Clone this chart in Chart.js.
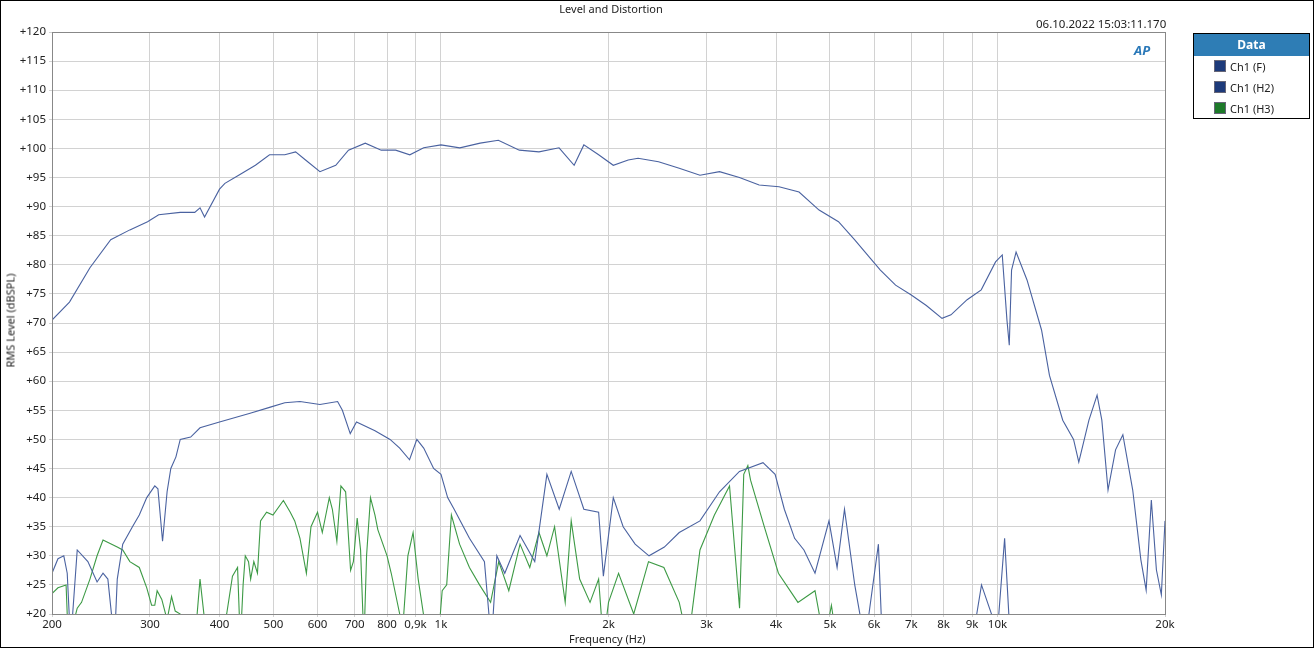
<!DOCTYPE html>
<html lang="en">
<head>
    <meta charset="utf-8" />
    <title>Level and Distortion</title>
    <style>
        html, body { margin: 0; padding: 0; background: white; font-family: 'Noto Sans', 'Open Sans', Arial, sans-serif; color: #222; }
        #frame { position: relative; width: 1312px; height: 646px; border: 1px solid #000; overflow: hidden; }
        #chart { position: absolute; left: -1px; top: -1px; }
        .txt { position: absolute; font-size: 11px; white-space: nowrap; }
        #title { left: 0; width: 1220px; top: 0; text-align: center; }
        #stamp { left: 1035px; top: 15px; font-size: 11.5px; }
        #ylab { left: -46px; top: 312px; transform: rotate(-90deg); width: 110px; text-align: center; }
        #xlab { left: 568px; top: 630px; }
        #ap { left: 1133px; top: 40px; color: #2a78b8; font-weight: bold; font-style: italic; font-size: 13px; }
        #legend { position: absolute; left: 1192px; top: 32px; width: 115px; height: 84px; border: 1px solid #000; font-size: 11px; }
        #legend .hd { background: #2e7db5; color: white; font-weight: bold; text-align: center; height: 22px; line-height: 22px; font-size: 12px; }
        #legend .row { height: 21px; line-height: 21px; padding-left: 20px; }
        #legend .sw { display: inline-block; width: 10px; height: 10px; vertical-align: -1px; margin-right: 4px; border: 1px solid #667; }
    </style>
</head>
<body>
<div id="frame">
    <canvas id="chart" width="1314" height="648"></canvas>
    <div class="txt" id="title">Level and Distortion</div>
    <div class="txt" id="stamp">06.10.2022 15:03:11.170</div>
    <div class="txt" id="ylab">RMS Level (dBSPL)</div>
    <div class="txt" id="xlab">Frequency (Hz)</div>
    <div class="txt" id="ap">AP</div>
    <div id="legend">
        <div class="hd">Data</div>
        <div class="row"><span class="sw" style="background:#1d3a7a"></span>Ch1 (F)</div>
        <div class="row"><span class="sw" style="background:#1d3a7a"></span>Ch1 (H2)</div>
        <div class="row"><span class="sw" style="background:#1e7a2a"></span>Ch1 (H3)</div>
    </div>
</div>

<script src="https://cdn.jsdelivr.net/npm/chart.js@4.4.3/dist/chart.umd.min.js"></script>
<script>
    // fundamental
    const fFreq = [200, 215, 234, 255, 276, 297, 311, 340, 361, 369, 376, 400, 409, 433, 464, 492, 524, 548, 571, 606, 647, 682, 731, 781, 829, 879, 931, 1000, 1081, 1176, 1268, 1383, 1500, 1630, 1735, 1806, 1920, 2040, 2170, 2260, 2460, 2680, 2920, 3166, 3438, 3730, 4050, 4400, 4780, 5180, 5540, 5900, 6160, 6560, 7000, 7450, 7950, 8250, 8820, 9350, 9920, 10200, 10400, 10500, 10600, 10800, 11300, 12000, 12400, 13100, 13700, 14000, 14600, 15100, 15400, 15800, 16300, 16800, 17500, 18100, 18500, 18900, 19300, 19700, 20000];
    const fLevel = [70.5, 73.6, 79.5, 84.3, 86, 87.4, 88.6, 89, 89, 89.8, 88.2, 93, 94, 95.4, 97.1, 98.9, 98.9, 99.4, 98, 96, 97.1, 99.7, 100.9, 99.7, 99.7, 98.9, 100.1, 100.6, 100.1, 100.9, 101.4, 99.7, 99.4, 100.1, 97.1, 100.6, 98.9, 97.1, 98, 98.3, 97.7, 96.6, 95.4, 96, 95, 93.7, 93.4, 92.5, 89.4, 87.4, 84.3, 81.2, 79.1, 76.5, 74.8, 73, 70.8, 71.4, 74, 75.7, 80.5, 81.7, 70.5, 66.2, 79.1, 82.2, 77.4, 68.8, 61, 53.3, 50, 46.1, 53.3, 57.6, 53.3, 41.3, 48.2, 50.8, 41.3, 29.3, 24.1, 39.6, 27.6, 23.3, 36];

    // second harmonic
    const h2Freq = [200, 205, 210, 213, 216, 222, 232, 241, 247, 252, 259, 262, 268, 279, 287, 296, 306, 310, 316, 322, 327, 334, 340, 355, 369, 400, 454, 492, 524, 558, 606, 652, 665, 687, 705, 761, 810, 843, 878, 905, 931, 970, 1000, 1028, 1056, 1125, 1197, 1232, 1260, 1302, 1387, 1474, 1550, 1631, 1714, 1806, 1920, 1958, 2040, 2125, 2233, 2365, 2520, 2680, 2920, 3166, 3438, 3790, 3985, 4140, 4320, 4490, 4700, 4980, 5150, 5310, 5540, 5780, 6110, 6210, 6400, 9000, 9360, 10000, 10300, 10550, 11000, 20000];
    const h2Level = [27, 29.5, 30, 27, 15, 31, 29, 25.5, 27, 26, 15, 26, 32, 35, 37, 40, 42, 41.5, 32.5, 41, 45, 47, 50, 50.4, 52, 53, 54.5, 55.5, 56.3, 56.5, 56, 56.5, 55, 51, 53, 51.5, 50, 48.5, 46.5, 50, 48.5, 45, 44, 40, 38, 33, 29, 15, 30, 27, 33.5, 29, 44, 38, 44.5, 38, 37.5, 26.5, 40, 35, 32, 30, 31.5, 34, 36, 41, 44.5, 46, 44, 38, 33, 31, 27, 36, 28, 38, 25, 15, 32, 15, 15, 15, 25, 17, 33, 15, 15, 15];

    // third harmonic
    const h3Freq = [200, 205, 212, 214, 222, 226, 234, 241, 247, 262, 268, 276, 287, 296, 302, 306, 309, 315, 322, 328, 333, 340, 345, 361, 369, 380, 400, 412, 422, 431, 436, 441, 445, 451, 455, 461, 468, 474, 486, 499, 521, 536, 546, 558, 573, 584, 600, 612, 630, 638, 650, 661, 674, 688, 696, 707, 717, 727, 735, 747, 761, 770, 800, 814, 843, 850, 872, 891, 910, 930, 940, 988, 1005, 1024, 1044, 1080, 1125, 1173, 1228, 1270, 1324, 1387, 1444, 1500, 1550, 1600, 1672, 1714, 1775, 1853, 1920, 1958, 2000, 2085, 2220, 2360, 2515, 2680, 2780, 2920, 3100, 3300, 3440, 3500, 3560, 3600, 3810, 4040, 4380, 4700, 4890, 5030, 5150, 20000];
    const h3Level = [23.5, 24.5, 25, 15, 21, 22, 26, 30, 32.7, 31.5, 31, 29, 28, 24.5, 21.5, 21.5, 24, 22.5, 19, 23, 20.5, 20, 15, 15, 26, 15, 15, 20, 26.5, 28, 15, 25, 30, 29, 26, 29, 27, 36, 37.5, 37, 39.5, 37.5, 36, 33, 27, 35, 37.5, 34, 40, 38, 32.5, 42, 41, 27.5, 29, 36.5, 31, 15, 30, 40, 37, 34.5, 30, 27, 20, 15, 30, 34, 26, 20, 15, 15, 24, 25, 37, 32, 28, 25, 22, 29, 24, 32, 28, 34, 30, 35, 22, 36, 26, 22, 26, 15, 22, 27, 20, 29, 28, 22, 15, 31, 37, 42, 21, 44, 45.5, 43, 35, 27, 22, 24, 15, 21.5, 15, 15];

    const xTicks = [200, 300, 400, 500, 600, 700, 800, 900, 1000, 2000, 3000, 4000, 5000, 6000, 7000, 8000, 9000, 10000, 20000];

    function pairs(fs, vs) { return fs.map((f, i) => ({ x: f, y: vs[i] })); }

    function tickLabel(v) {
        if (v === 900) return '0,9k';
        if (v >= 1000) return (v / 1000) + 'k';
        return String(v);
    }

    const font = { family: "'Noto Sans', 'Open Sans', Arial, sans-serif", size: 11.5 };

    new Chart(document.getElementById('chart'), {
        type: 'line',
        data: {
            datasets: [
                { label: 'Ch1 (F)', data: pairs(fFreq, fLevel), borderColor: '#4a62a0' },
                { label: 'Ch1 (H2)', data: pairs(h2Freq, h2Level), borderColor: '#4a62a0' },
                { label: 'Ch1 (H3)', data: pairs(h3Freq, h3Level), borderColor: '#3d9a45' }
            ]
        },
        options: {
            responsive: false,
            animation: false,
            layout: { padding: { top: 32, right: 149, left: 0, bottom: 0 } },
            elements: { point: { radius: 0 }, line: { borderWidth: 1.1, tension: 0 } },
            plugins: { legend: { display: false }, tooltip: { enabled: false } },
            scales: {
                x: {
                    type: 'logarithmic', min: 200, max: 20000,
                    afterBuildTicks: s => { s.ticks = xTicks.map(v => ({ value: v })); },
                    afterFit: s => { s.height = 34; },
                    ticks: { color: '#222', font: font, autoSkip: false, maxRotation: 0, padding: 1, callback: v => tickLabel(v) },
                    grid: { color: '#d2d2d2', tickLength: 3 },
                    border: { color: '#888' }
                },
                y: {
                    min: 20, max: 120,
                    afterFit: s => { s.width = 52; },
                    ticks: { stepSize: 5, color: '#222', font: font, padding: 3, callback: v => '+' + v },
                    grid: { color: '#d2d2d2', tickLength: 3 },
                    border: { color: '#888' }
                }
            }
        },
        plugins: [{
            id: 'frameBox',
            afterDraw(c) {
                const a = c.chartArea, ctx = c.ctx;
                ctx.save();
                ctx.strokeStyle = '#888';
                ctx.lineWidth = 1;
                ctx.strokeRect(a.left + 0.5, a.top + 0.5, a.right - a.left, a.bottom - a.top);
                ctx.restore();
            }
        }]
    });
</script>
</body>
</html>
